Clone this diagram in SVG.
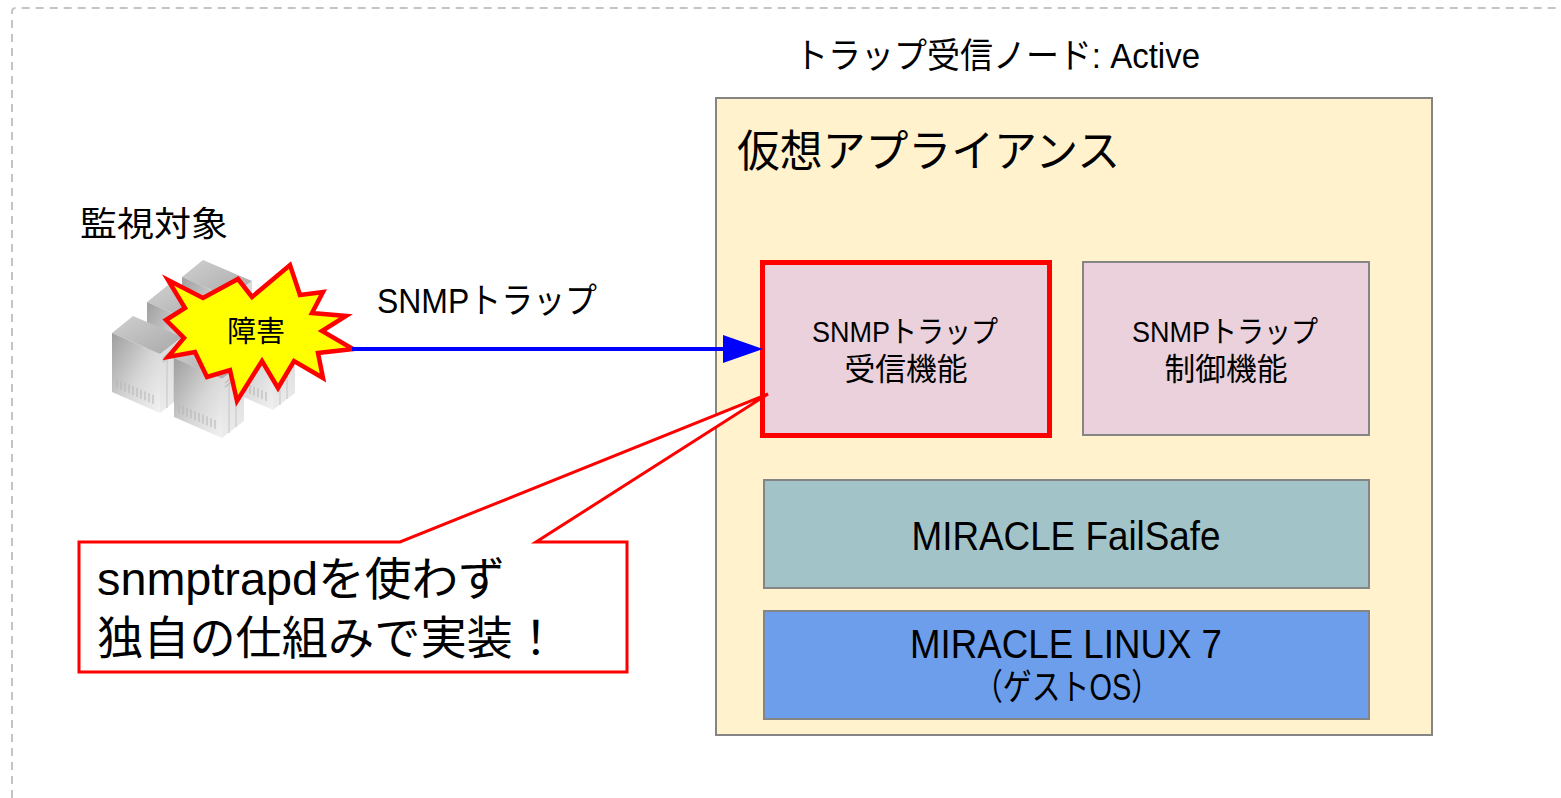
<svg xmlns="http://www.w3.org/2000/svg" width="1561" height="798" viewBox="0 0 1561 798">
  <style>
    text { font-family: "Liberation Sans", "Noto Sans CJK JP", sans-serif; fill: #000; }
    .mid { text-anchor: middle; }
    .box { stroke: #858585; stroke-width: 2; }
    .callout { fill: #fff; stroke: #ff0000; stroke-width: 3; stroke-linejoin: miter; }
  </style>
  <defs>
    <linearGradient id="gFace" x1="0" y1="0" x2="1" y2="1">
      <stop offset="0" stop-color="#9e9e9e"/>
      <stop offset="0.55" stop-color="#d6d6d6"/>
      <stop offset="1" stop-color="#f2f2f2"/>
    </linearGradient>
    <linearGradient id="gTop" x1="0" y1="0" x2="1" y2="1">
      <stop offset="0" stop-color="#d0d0d0"/>
      <stop offset="1" stop-color="#a8a8a8"/>
    </linearGradient>
    <linearGradient id="gSide" x1="0" y1="0" x2="0" y2="1">
      <stop offset="0" stop-color="#d8d8d8"/>
      <stop offset="1" stop-color="#ececec"/>
    </linearGradient>
    <!-- isometric tower server -->
    <g id="server">
      <path d="M0,0 L21,-17 L70,4 L48,21 Z" fill="url(#gTop)"/>
      <path d="M0,0 L48,21 L48,80 L0,59 Z" fill="url(#gFace)"/>
      <path d="M48,21 L70,4 L70,63 L48,80 Z" fill="url(#gSide)"/>
      <path d="M5,46.2v9 M9,47.9v9 M13,49.7v9 M17,51.4v9 M21,53.2v9 M25,54.9v9 M29,56.7v9 M33,58.4v9 M37,60.2v9 M41,61.9v9" stroke="#b4b4b4" stroke-width="1"/>
      <path d="M55,24v51 M62,18v51" stroke="#c4c4c4" stroke-width="1"/>
      <path d="M51,25 L67,12 M51,29 L67,16" stroke="#bdbdbd" stroke-width="1.5"/>
    </g>
  </defs>

  <!-- dashed page frame -->
  <path d="M12,798 L12,12 Q12,8 16,8 L1561,8" fill="none" stroke="#c4c4c4" stroke-width="2" stroke-dasharray="8,6"/>

  <!-- monitored hosts -->
  <g id="monitored">
    <text x="80" y="236" font-size="34" textLength="148" lengthAdjust="spacingAndGlyphs">監視対象</text>
    <use href="#server" transform="translate(182,277)"/>
    <use href="#server" transform="translate(225,330)"/>
    <use href="#server" transform="translate(147,302)"/>
    <use href="#server" transform="translate(112,333)"/>
    <use href="#server" transform="translate(174,358)"/>
  </g>

  <!-- fault burst -->
  <g id="fault">
    <polygon points="168,280 203,298 238,279 252,297 290,265 300,295 323,292 312,313 346,316 322,331 353,349 318,353 323,378 294,361 278,388 262,361 237,401 230,370 207,377 195,352 168,357 184,338 166,320 185,308" fill="#ffff00" stroke="#ff0000" stroke-width="4.5" stroke-linejoin="miter"/>
    <text x="256" y="342" class="mid" font-size="29">障害</text>
  </g>

  <!-- node title -->
  <text x="795" y="68" font-size="35" textLength="405" lengthAdjust="spacingAndGlyphs">トラップ受信ノード: Active</text>

  <!-- appliance container -->
  <g id="appliance">
    <rect x="716" y="98" width="716" height="637" fill="#fff2cc" class="box"/>
    <text x="737" y="167" font-size="44" textLength="383" lengthAdjust="spacingAndGlyphs">仮想アプライアンス</text>
  </g>

  <g id="trap-receive">
    <rect x="762.5" y="262.5" width="287" height="173" fill="#ead1dc" stroke="#ff0000" stroke-width="5"/>
    <text x="905" y="342" class="mid" font-size="30" textLength="186" lengthAdjust="spacingAndGlyphs">SNMPトラップ</text>
    <text x="906" y="380" class="mid" font-size="31" textLength="123" lengthAdjust="spacingAndGlyphs">受信機能</text>
  </g>

  <g id="trap-control">
    <rect x="1083" y="262" width="286" height="173" fill="#ead1dc" class="box"/>
    <text x="1225" y="342" class="mid" font-size="30" textLength="186" lengthAdjust="spacingAndGlyphs">SNMPトラップ</text>
    <text x="1226" y="380" class="mid" font-size="31" textLength="123" lengthAdjust="spacingAndGlyphs">制御機能</text>
  </g>

  <g id="failsafe">
    <rect x="764" y="480" width="605" height="108" fill="#a2c4c9" class="box"/>
    <text x="1066" y="550" class="mid" font-size="41" textLength="309" lengthAdjust="spacingAndGlyphs">MIRACLE FailSafe</text>
  </g>

  <g id="guest-os">
    <rect x="764" y="611" width="605" height="108" fill="#6d9eeb" class="box"/>
    <text x="1066" y="658" class="mid" font-size="41" textLength="312" lengthAdjust="spacingAndGlyphs">MIRACLE LINUX 7</text>
    <text x="1067" y="700" class="mid" font-size="36" textLength="186" lengthAdjust="spacingAndGlyphs">（ゲストOS）</text>
  </g>

  <!-- connectors -->
  <g id="connectors">
    <line x1="352" y1="349" x2="728" y2="349" stroke="#0000ff" stroke-width="4"/>
    <polygon points="723,335 763,349 723,363" fill="#0000ff"/>
    <text x="377" y="313" font-size="35" textLength="220" lengthAdjust="spacingAndGlyphs">SNMPトラップ</text>
  </g>

  <!-- callout note -->
  <g id="note">
    <path class="callout" d="M79,542 L400,542 L768,394 L536,542 L627,542 L627,672 L79,672 Z"/>
    <text x="97" y="595" font-size="46" textLength="408" lengthAdjust="spacingAndGlyphs">snmptrapdを使わず</text>
    <text x="97" y="654" font-size="46" textLength="462" lengthAdjust="spacingAndGlyphs">独自の仕組みで実装！</text>
  </g>
</svg>
